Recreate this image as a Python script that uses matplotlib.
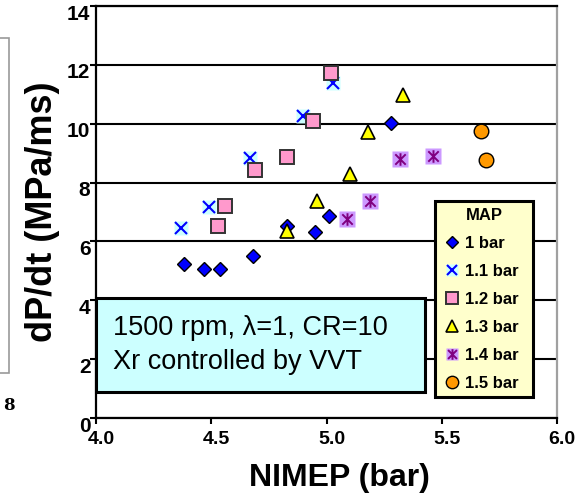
import matplotlib
matplotlib.use("Agg")
import matplotlib.pyplot as plt
from matplotlib.lines import Line2D
from matplotlib.path import Path
from matplotlib.patches import Rectangle
import matplotlib.transforms as mtransforms

plt.rcParams['font.family'] = ['Liberation Sans', 'DejaVu Sans']

# NIMEP (bar) / dP/dt (MPa/ms) for each MAP level
x_10 = [4.38, 4.47, 4.54, 4.68, 4.83, 4.95, 5.01, 5.28]
y_10 = [5.24, 5.08, 5.05, 5.52, 6.52, 6.31, 6.88, 10.02]
x_11 = [4.37, 4.49, 4.67, 4.90, 5.03]
y_11 = [6.44, 7.17, 8.84, 10.27, 11.40]
x_12 = [4.53, 4.56, 4.69, 4.83, 4.94, 5.02]
y_12 = [6.54, 7.20, 8.42, 8.88, 10.08, 11.74]
x_13 = [4.83, 4.96, 5.10, 5.18, 5.33]
y_13 = [6.37, 7.37, 8.28, 9.72, 10.98]
x_14 = [5.09, 5.19, 5.32, 5.46]
y_14 = [6.75, 7.38, 8.79, 8.90]
x_15 = [5.67, 5.69]
y_15 = [9.74, 8.76]

labels = ['1 bar', '1.1 bar', '1.2 bar', '1.3 bar', '1.4 bar', '1.5 bar']
xticks = [4.0, 4.5, 5.0, 5.5, 6.0]
yticks = [0, 2, 4, 6, 8, 10, 12, 14]

# excel style "star": an x with a vertical bar
star = Path([(-1, -1), (1, 1), (-1, 1), (1, -1), (0, -1.2), (0, 1.2)],
            [Path.MOVETO, Path.LINETO, Path.MOVETO, Path.LINETO, Path.MOVETO, Path.LINETO])

fig = plt.figure(figsize=(5.78, 4.97), dpi=100)
ax = fig.add_axes([96 / 578, 79 / 497, 461 / 578, 412 / 497])

s_diamond = dict(marker='D', ms=7.2, mfc='#0000FF', mec='black', mew=1.0, ls='none')
s_xbg = dict(marker='s', ms=10.5, mfc='#CCFFFF', mec='none', ls='none')
s_x = dict(marker='x', ms=8, mec='#0000FF', mew=1.5, ls='none')
s_square = dict(marker='s', ms=10, mfc='#FF99CC', mec='#333333', mew=1.4, ls='none')
s_tri = dict(marker='^', ms=10, mfc='#FFFF00', mec='black', mew=1.2, ls='none')
s_starbg = dict(marker='s', ms=11, mfc='#CC99FF', mec='none', ls='none')
s_star = dict(marker=star, ms=9, mec='#800080', mfc='none', mew=1.4, ls='none')
s_circle = dict(marker='o', ms=10.5, mfc='#FF9900', mec='black', mew=1.0, ls='none')

ax.plot(x_10, y_10, zorder=3, **s_diamond)
ax.plot(x_11, y_11, zorder=3, **s_xbg)
ax.plot(x_11, y_11, zorder=3, **s_x)
ax.plot(x_12, y_12, zorder=3, **s_square)
ax.plot(x_13, y_13, zorder=3, **s_tri)
ax.plot(x_14, y_14, zorder=3, **s_starbg)
ax.plot(x_14, y_14, zorder=3, **s_star)
ax.plot(x_15, y_15, zorder=3, **s_circle)

ax.set_xlim(4.0, 6.0)
ax.set_ylim(0, 14)
ax.set_xticks(xticks)
ax.set_xticklabels(['%.1f' % t for t in xticks], fontsize=14, fontweight='bold')
ax.set_yticks(yticks)
ax.set_yticklabels([str(t) for t in yticks], fontsize=15, fontweight='bold')
ax.tick_params(axis='both', direction='out', length=4, width=1.5, color='black')
ax.tick_params(axis='y', pad=0)
ax.tick_params(axis='x', pad=5)

# y labels sit a bit lower than their ticks, x labels a bit to the right
dy = mtransforms.ScaledTranslation(0, -6 / 100, fig.dpi_scale_trans)
for lab in ax.get_yticklabels():
    lab.set_transform(lab.get_transform() + dy)
dx = mtransforms.ScaledTranslation(5 / 100, 0, fig.dpi_scale_trans)
for lab in ax.get_xticklabels():
    lab.set_transform(lab.get_transform() + dx)

ax.yaxis.grid(True, color='black', lw=1.5, zorder=1)
ax.set_axisbelow(True)
for side in ['left', 'bottom', 'top']:
    ax.spines[side].set_color('black')
    ax.spines[side].set_linewidth(1.6)
ax.spines['right'].set_color('#A0A0A0')
ax.spines['right'].set_linewidth(1.6)

ax.set_xlabel('NIMEP (bar)', fontsize=23, fontweight='bold')
ax.xaxis.label.set_va('center')
ax.xaxis.set_label_coords(0.529, -0.146)
ax.set_ylabel('dP/dt (MPa/ms)', fontsize=26, fontweight='bold')
ax.yaxis.label.set_va('center')
ax.yaxis.set_label_coords(-0.115, 0.5)

# condition box
ax.add_patch(Rectangle((0.0, 0.063), 0.713, 0.228, transform=ax.transAxes,
                       facecolor='#CCFFFF', edgecolor='black', lw=2.2, zorder=4, clip_on=False))
ax.text(0.037, 0.2015, '1500 rpm, λ=1, CR=10', transform=ax.transAxes,
        fontsize=19.5, va='baseline', ha='left', zorder=5)
ax.text(0.037, 0.119, 'Xr controlled by VVT', transform=ax.transAxes,
        fontsize=19.5, va='baseline', ha='left', zorder=5)

handles = [
    Line2D([], [], **s_diamond),
    (Line2D([], [], **s_xbg), Line2D([], [], **s_x)),
    Line2D([], [], **s_square),
    Line2D([], [], **s_tri),
    (Line2D([], [], **s_starbg), Line2D([], [], **s_star)),
    Line2D([], [], **s_circle),
]
leg = ax.legend(handles, labels, title='MAP', loc='upper left',
                bbox_to_anchor=(435 / 578, 1 - 206 / 497, 98 / 578, 0.01),
                bbox_transform=fig.transFigure, mode='expand', borderaxespad=0,
                prop={'size': 12, 'weight': 'bold'},
                title_fontproperties={'size': 12, 'weight': 'bold'},
                handlelength=1.2, handletextpad=0.2, labelspacing=0.78,
                borderpad=0.4, fancybox=False, framealpha=1, markerscale=0.85)
leg.get_frame().set_facecolor('#FFFFCC')
leg.get_frame().set_edgecolor('black')
leg.get_frame().set_linewidth(2.2)
leg.set_zorder(6)

# edge of the neighbouring chart, cropped at the left
fig.add_artist(Rectangle((-0.02, 1 - 373 / 497), 9 / 578 + 0.02, 335 / 497,
                         transform=fig.transFigure, facecolor='none',
                         edgecolor='#999999', lw=1.2))
fig.text(9 / 578, 1 - 405 / 497, '8', fontsize=12, fontweight='bold',
         ha='center', va='center', family=['DejaVu Serif'])

fig.savefig('out.png', dpi=100)
